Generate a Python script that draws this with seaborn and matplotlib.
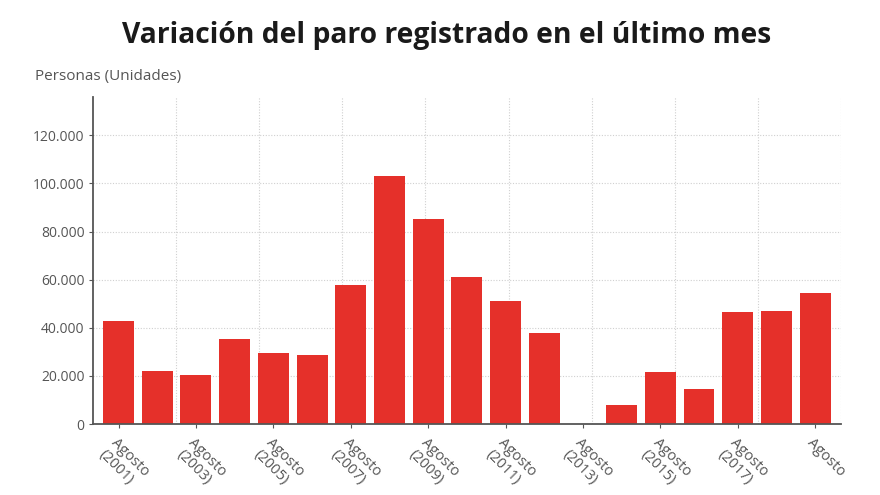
import matplotlib
matplotlib.use("Agg")
import matplotlib.pyplot as plt
import matplotlib.ticker as mticker
import seaborn as sns
import pandas as pd

years = [str(y) for y in range(2001, 2020)]
values = [42900, 22100, 20400, 35400, 29600, 28700, 57900, 103100, 85200,
          61100, 51200, 38000, 31, 8100, 21700, 14400, 46400, 47000, 54400]
tick_labels = ["Agosto\n(2001)", "Agosto\n(2003)", "Agosto\n(2005)", "Agosto\n(2007)",
               "Agosto\n(2009)", "Agosto\n(2011)", "Agosto\n(2013)", "Agosto\n(2015)",
               "Agosto\n(2017)", "Agosto"]
y_ticks = [0, 20000, 40000, 60000, 80000, 100000, 120000]

title = "Variación del paro registrado en el último mes"
y_title = "Personas (Unidades)"

sns.set_theme(style="white")
plt.rcParams['font.family'] = ['Open Sans', 'DejaVu Sans']

df = pd.DataFrame({"year": years, "value": values})

fig = plt.figure(figsize=(8.8, 4.95), dpi=100)
ax = fig.add_axes([0.1057, 0.1434, 0.850, 0.661])

sns.barplot(data=df, x="year", y="value", color="#E5302A", saturation=1,
            width=0.8, ax=ax, zorder=3, linewidth=0)

n = len(years)
x0, x1 = -0.66, n - 0.33
ax.set_xlim(x0, x1)
ax.set_ylim(0, 136000)

ax.set_xticks(range(0, n, 2))
ax.set_xticklabels(tick_labels, rotation=-45, ha="left", va="top",
                   rotation_mode="anchor", fontsize=10.5, color="#555555")
ax.xaxis.set_minor_locator(mticker.FixedLocator([x0 + (x1 - x0) * k / 9 for k in range(1, 10)]))

ax.set_yticks(y_ticks)
ax.yaxis.set_major_formatter(mticker.FuncFormatter(lambda v, p: f"{int(v):,}".replace(",", ".")))
ax.tick_params(axis="y", labelsize=10, labelcolor="#555555", length=3, width=0.8,
               color="#555555", left=True, pad=3)
ax.tick_params(axis="x", which="major", length=3, width=0.8, color="#555555",
               bottom=True, pad=5)
ax.tick_params(axis="x", which="minor", length=0)

ax.grid(axis="y", which="major", linestyle=(0, (1, 1.5)), color="#d0d0d0", linewidth=0.8, zorder=0)
ax.grid(axis="x", which="minor", linestyle=(0, (1, 1.5)), color="#d0d0d0", linewidth=0.8, zorder=0)
ax.grid(axis="x", which="major", visible=False)

for s in ["top", "right"]:
    ax.spines[s].set_visible(False)
for s in ["left", "bottom"]:
    ax.spines[s].set_color("#555555")
    ax.spines[s].set_linewidth(1.3)
    ax.spines[s].set_zorder(5)

ax.set_xlabel("")
ax.set_ylabel("")

fig.text(0.508, 0.928, title, ha="center", va="center", fontsize=20.3,
         fontweight="bold", color="#1a1a1a")
fig.text(0.040, 0.845, y_title, ha="left", va="center", fontsize=11, color="#555555")

fig.savefig("out.png", dpi=100)
